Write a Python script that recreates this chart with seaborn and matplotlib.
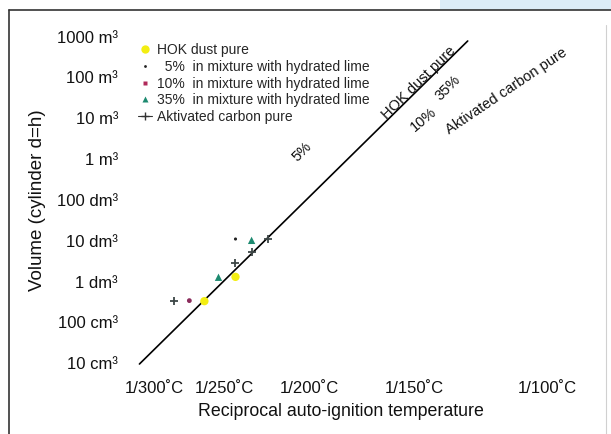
import numpy as np
import pandas as pd
import matplotlib
matplotlib.use("Agg")
import matplotlib.pyplot as plt
from matplotlib.lines import Line2D
from matplotlib.patches import Rectangle
import seaborn as sns

# measured points: auto-ignition temperature (°C) and critical volume (dm³)
hok_temp = [263.5, 243.0]
hok_vol = [0.33, 1.3]
lime5_temp = [243.0]
lime5_vol = [11.0]
lime10_temp = [274.0]
lime10_vol = [0.34]
lime35_temp = [254.0, 233.0]
lime35_vol = [1.27, 10.2]
carbon_temp = [285.0, 243.0, 232.5, 223.0]
carbon_vol = [0.34, 2.8, 5.2, 11.0]

# fitted line for HOK dust pure
hok_line_temp = [312.0, 128.5]
hok_line_vol = [0.0095, 785000.0]

# axis ticks
x_tick_temps = [300, 250, 200, 150, 100]
x_tick_labels = ["1/300˚C", "1/250˚C", "1/200˚C", "1/150˚C", "1/100˚C"]
y_tick_vals = [1e6, 1e5, 1e4, 1e3, 1e2, 1e1, 1e0, 1e-1, 1e-2]
y_tick_labels = ["1000 m³", "100 m³", "10 m³", "1 m³", "100 dm³",
                 "10 dm³", "1 dm³", "100 cm³", "10 cm³"]


def recip(temps):
    # reciprocal absolute temperature (1000/K)
    return 1000.0 / (np.asarray(temps, dtype=float) + 273.15)


sns.set_style("white")
plt.rcParams["font.family"] = ["Liberation Sans", "DejaVu Sans"]
plt.rcParams["axes.unicode_minus"] = False

W, H = 611, 434
fig = plt.figure(figsize=(W / 100, H / 100), dpi=100)
ax = fig.add_axes([125 / W, (H - 370) / H, 475 / W, 340 / H])

# regression line
line_df = pd.DataFrame({"x": recip(hok_line_temp), "v": hok_line_vol})
sns.lineplot(data=line_df, x="x", y="v", color="black", lw=1.2, ax=ax,
             legend=False, sort=False)


def scat(temps, vols, **kw):
    df = pd.DataFrame({"x": recip(temps), "v": vols})
    sns.scatterplot(data=df, x="x", y="v", ax=ax, legend=False, zorder=3, **kw)


scat(hok_temp, hok_vol, marker="o", s=36, color="#f3ee12", edgecolor="none")
scat(lime10_temp, lime10_vol, marker="o", s=12, color="#8b2c5c", edgecolor="none")
scat(lime35_temp, lime35_vol, marker="^", s=28, color="#1d8a70", edgecolor="none")
scat(lime5_temp, lime5_vol, marker="o", s=5, color="#222222", edgecolor="none")
scat(carbon_temp, carbon_vol, marker="+", s=32, color="#3d4646", linewidth=1.3)

ax.set_yscale("log")
ax.set_xlim(1.6746, 2.8044)
ax.set_ylim(10 ** -2.169, 10 ** 6.164)
ax.set_xticks(recip(x_tick_temps))
ax.set_xticklabels(x_tick_labels)
ax.set_yticks(y_tick_vals)
ax.set_yticklabels(y_tick_labels)
ax.minorticks_off()
ax.tick_params(axis="both", length=0, labelsize=12, colors="#111111")
ax.tick_params(axis="y", pad=5)
ax.tick_params(axis="x", pad=8)
for s in ax.spines.values():
    s.set_visible(False)
ax.grid(False)

ax.set_xlabel("Reciprocal auto-ignition temperature", fontsize=12.8, color="#111111")
ax.xaxis.set_label_coords((340.7 - 125) / 475, (370 - 411.7) / 340)
ax.xaxis.label.set_va("center")
ax.set_ylabel("Volume (cylinder d=h)", fontsize=13.5, color="#111111")
ax.yaxis.set_label_coords((38 - 125) / 475, 0.5)
ax.yaxis.label.set_va("center")

# legend
handles = [
    Line2D([], [], ls="none", marker="o", ms=6, color="#f3ee12", mec="none"),
    Line2D([], [], ls="none", marker="o", ms=2, color="#222222", mec="none"),
    Line2D([], [], ls="none", marker="s", ms=3.5, color="#b02a5a", mec="none"),
    Line2D([], [], ls="none", marker="^", ms=4, color="#1d8a70", mec="none"),
    Line2D([], [], ls="-", lw=0.8, marker="+", ms=6, mew=1.0, color="#333333"),
]
labels = ["HOK dust pure",
          "  5%  in mixture with hydrated lime",
          "10%  in mixture with hydrated lime",
          "35%  in mixture with hydrated lime",
          "Aktivated carbon pure"]
ax.legend(handles, labels, loc="upper left",
          bbox_to_anchor=(138 / W, 1 - 43 / H), bbox_transform=fig.transFigure,
          frameon=False, fontsize=10, handlelength=1.0, handletextpad=0.35,
          labelspacing=0.2, borderpad=0, borderaxespad=0)


# rotated curve labels
def ann(text, px, py, rot):
    ax.text((px - 125) / 475, (370 - py) / 340, text, transform=ax.transAxes,
            rotation=rot, rotation_mode="anchor", ha="center", va="center",
            fontsize=10.5, color="#111111")


p0 = ax.transData.transform((recip([hok_line_temp[0]])[0], hok_line_vol[0]))
p1 = ax.transData.transform((recip([hok_line_temp[1]])[0], hok_line_vol[1]))
line_angle = np.degrees(np.arctan2(p1[1] - p0[1], p1[0] - p0[0]))

ann("HOK dust pure", 419, 83, line_angle)
ann("5%", 301.7, 151.7, 45)
ann("10%", 423.3, 120, 40)
ann("35%", 448.3, 88.3, 45)
ann("Aktivated carbon pure", 506.7, 91.7, 34)

# scanned page frame
fig.add_artist(Rectangle((440 / W, 1 - 10 / H), 171 / W, 10 / H,
                         transform=fig.transFigure, color="#dcedf7", lw=0))
fig.add_artist(Line2D([8.5 / W, 1.0], [1 - 10 / H, 1 - 10 / H],
                      transform=fig.transFigure, color="#333333", lw=1.2))
fig.add_artist(Line2D([8.5 / W, 8.5 / W], [0, 1 - 10 / H],
                      transform=fig.transFigure, color="#333333", lw=1.2))
fig.add_artist(Line2D([606 / W, 606 / W], [0, 1 - 25 / H],
                      transform=fig.transFigure, color="#d0d0d0", lw=0.8))

fig.savefig("out.png", dpi=100)
